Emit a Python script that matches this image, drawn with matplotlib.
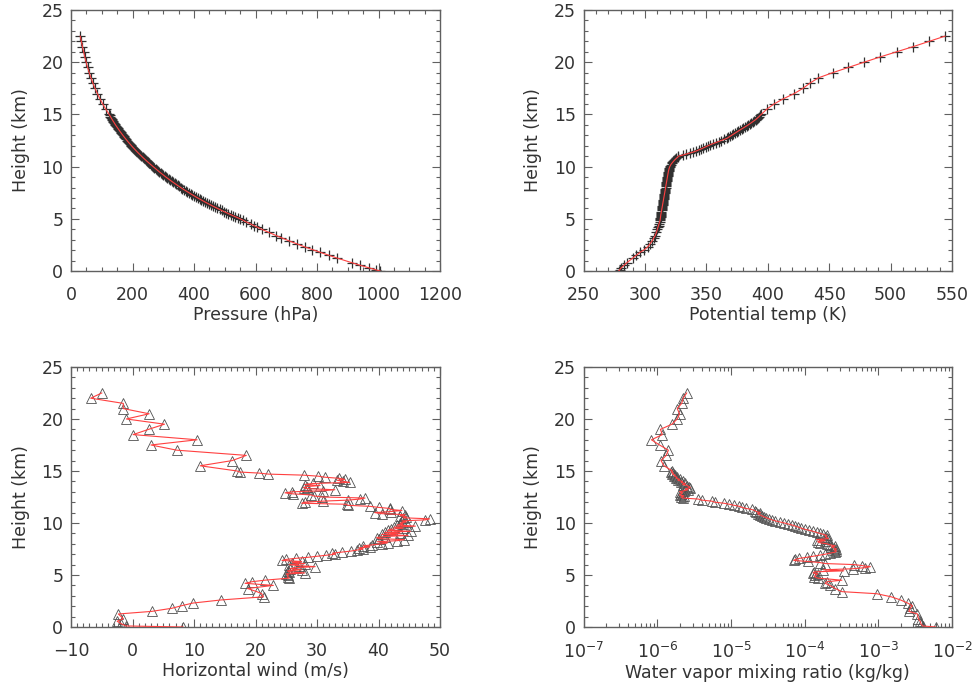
import matplotlib
matplotlib.use("Agg")
import matplotlib.pyplot as plt
from matplotlib.ticker import MultipleLocator, LogLocator, NullFormatter

# ---------------- data ----------------
height_low = [0.0, 0.1, 0.3, 0.55, 0.8, 1.25, 1.5, 1.8, 2.05, 2.3, 2.6, 2.9,
              3.2, 3.4, 3.7, 4.0, 4.2, 4.35, 4.5, 4.7, 4.85]
height_mid = [5.0, 5.1, 5.2, 5.3, 5.4, 5.5, 5.6, 5.7, 5.8, 5.9,
              6.0, 6.1, 6.2, 6.3, 6.4, 6.5, 6.6, 6.7, 6.8, 6.9,
              7.0, 7.1, 7.2, 7.3, 7.4, 7.5, 7.6, 7.7, 7.8, 7.9,
              8.0, 8.1, 8.2, 8.3, 8.4, 8.5, 8.6, 8.7, 8.8, 8.9,
              9.0, 9.1, 9.2, 9.3, 9.4, 9.5, 9.6, 9.7, 9.8, 9.9,
              10.0, 10.1, 10.2, 10.3, 10.4, 10.5, 10.6, 10.7, 10.8, 10.9,
              11.0, 11.1, 11.2, 11.3, 11.4, 11.5, 11.6, 11.7, 11.8, 11.9,
              12.0, 12.1, 12.2, 12.3, 12.4, 12.5, 12.6, 12.7, 12.8, 12.9,
              13.0, 13.1, 13.2, 13.3, 13.4, 13.5, 13.6, 13.7, 13.8, 13.9,
              14.0, 14.1, 14.2, 14.3, 14.4, 14.5, 14.6, 14.7, 14.8, 14.9,
              15.0]
height_high = [15.5, 16.0, 16.5, 17.0, 17.5, 18.0, 18.5, 19.0, 19.5, 20.0,
               20.5, 21.0, 21.5, 22.0, 22.5]

pressure_low = [1005, 993, 969, 940, 913, 864, 839, 809, 785, 761, 734, 708,
                683, 667, 643, 620, 606, 595, 584, 570, 560]
pressure_mid = [550.0, 542.1, 534.3, 526.6, 519.1, 511.6, 504.3, 497.1, 489.9, 482.9,
                476.0, 469.2, 462.4, 455.8, 449.3, 442.8, 436.5, 430.2, 424.1, 418.0,
                412.0, 406.1, 400.3, 394.5, 388.9, 383.3, 377.8, 372.4, 367.1, 361.8,
                356.6, 351.5, 346.5, 341.5, 336.6, 331.8, 327.0, 322.3, 317.7, 313.2,
                308.7, 304.3, 299.9, 295.6, 291.4, 287.2, 283.1, 279.0, 275.0, 271.1,
                267.2, 263.1, 259.1, 255.2, 251.3, 247.5, 243.7, 240.0, 236.3, 232.7,
                229.2, 225.7, 222.3, 218.9, 215.6, 212.3, 209.0, 205.9, 202.7, 199.6,
                196.6, 193.6, 190.7, 187.8, 184.9, 182.1, 179.3, 176.6, 173.9, 171.2,
                168.6, 166.1, 163.5, 161.0, 158.6, 156.2, 153.8, 151.4, 149.1, 146.9,
                144.6, 142.4, 140.3, 138.1, 136.0, 134.0, 131.9, 129.9, 127.9, 126.0,
                124.1]
pressure_high = [113.1, 103.1, 94.0, 85.7, 78.1, 71.2, 64.9, 59.2, 53.9, 49.2,
                 44.8, 40.9, 37.2, 33.5, 30.0]

theta_low = [278.5, 279.2, 280.5, 282.8, 285.2, 290.0, 292.8, 296.0, 299.5, 302.0,
             304.0, 305.8, 307.3, 308.2, 309.2, 310.0, 310.6, 311.0, 311.4, 311.9, 312.2]
theta_mid = [312.4, 312.5, 312.6, 312.7, 312.8, 313.0, 313.1, 313.3, 313.4, 313.6,
             313.7, 313.9, 314.0, 314.2, 314.3, 314.5, 314.6, 314.8, 314.9, 315.1,
             315.2, 315.4, 315.5, 315.7, 315.8, 316.0, 316.1, 316.3, 316.4, 316.6,
             316.7, 316.8, 317.0, 317.1, 317.3, 317.4, 317.6, 317.7, 317.9, 318.0,
             318.2, 318.3, 318.5, 318.6, 318.8, 318.9, 319.1, 319.3, 319.5, 319.8,
             320.1, 320.5, 321.0, 321.6, 322.3, 323.0, 323.8, 324.6, 325.5, 326.6,
             327.0, 330.5, 333.5, 336.5, 339.3, 341.7, 343.8, 345.7, 347.5, 349.3,
             351.1, 353.0, 355.3, 357.6, 359.9, 362.1, 364.3, 366.5, 367.9, 369.2,
             370.5, 371.8, 373.1, 374.5, 375.8, 377.2, 378.6, 380.0, 381.4, 382.7,
             384.0, 385.3, 386.5, 387.7, 388.9, 390.0, 391.0, 392.0, 392.9, 393.6,
             394.6]
theta_high = [399.1, 405.0, 412.6, 421.5, 428.6, 434.3, 441.1, 452.8, 465.5, 478.3,
              491.3, 504.9, 518.5, 531.5, 544.3]

wind_low = [8.2, -1.0, -1.8, -2.5, -1.5, -2.3, 3.1, 6.4, 8.0, 9.8, 14.4, 21.3,
            21.0, 20.2, 18.7, 22.9, 18.3, 19.4, 21.5, 25.5, 25.2]
wind_mid = [25.3, 25.0, 28.0, 25.4, 25.2, 27.5, 25.6, 26.5, 29.7, 27.0,
            25.5, 28.0, 26.0, 27.5, 24.3, 25.0, 26.5, 28.5, 30.0, 31.5,
            33.0, 32.5, 34.0, 35.5, 36.5, 37.5, 36.8, 38.6, 37.5, 39.0,
            40.5, 41.5, 39.8, 43.0, 44.2, 40.0, 39.7, 41.0, 44.8, 40.5,
            43.5, 41.0, 45.2, 41.5, 42.0, 44.0, 42.5, 46.0, 43.0, 44.0,
            43.5, 44.5, 43.8, 47.6, 48.3, 44.0, 44.5, 43.5, 44.3, 40.5,
            39.4, 42.0, 43.8, 41.9, 41.8, 40.0, 38.6, 35.0, 34.8, 27.5,
            28.0, 31.0, 35.0, 37.0, 37.8, 30.8, 29.5, 29.0, 26.1, 24.8,
            26.0, 31.0, 32.9, 28.3, 27.8, 28.3, 30.5, 28.0, 29.4, 35.3,
            34.3, 33.3, 34.5, 33.5, 31.3, 30.2, 27.8, 22.1, 20.5, 17.4,
            17.0]
wind_high = [11.0, 16.2, 18.5, 7.2, 3.0, 10.5, 0.1, 2.6, 5.2, -1.0,
             2.7, -1.5, -1.5, -6.8, -5.0]

mixr_low = [6.0e-3, 4.0e-3, 3.8e-3, 3.7e-3, 3.5e-3, 3.4e-3, 2.6e-3, 2.7e-3, 2.9e-3,
            2.5e-3, 2.0e-3, 1.5e-3, 9.5e-4, 3.2e-4, 2.6e-4, 2.2e-4, 1.9e-4, 2.0e-4,
            3.2e-4, 1.5e-4, 1.35e-4]
mixr_mid = [1.4e-4, 1.5e-4, 1.3e-4, 1.35e-4, 3.4e-4, 1.8e-4, 4.5e-4, 6.5e-4, 7.8e-4, 6.0e-4,
            4.7e-4, 1.9e-4, 1.6e-4, 1.1e-4, 7.1e-5, 7.5e-5, 8.5e-5, 1.07e-4, 1.3e-4, 1.6e-4,
            1.9e-4, 2.2e-4, 2.6e-4, 2.7e-4, 2.5e-4, 2.7e-4, 2.5e-4, 2.3e-4, 2.6e-4, 2.2e-4,
            2.0e-4, 1.6e-4, 1.5e-4, 1.9e-4, 1.45e-4, 2.1e-4, 2.0e-4, 1.9e-4, 2.0e-4, 1.8e-4,
            1.6e-4, 1.45e-4, 1.3e-4, 1.15e-4, 1.0e-4, 9.0e-5, 8.2e-5, 7.5e-5, 6.8e-5, 6.0e-5,
            5.3e-5, 4.6e-5, 4.0e-5, 3.6e-5, 3.3e-5, 3.0e-5, 2.8e-5, 2.6e-5, 2.45e-5, 2.3e-5,
            2.5e-5, 2.2e-5, 2.1e-5, 1.9e-5, 1.6e-5, 1.4e-5, 1.3e-5, 1.1e-5, 9.5e-6, 8.0e-6,
            6.0e-6, 5.5e-6, 4.0e-6, 3.6e-6, 2.2e-6, 2.1e-6, 2.3e-6, 2.0e-6, 2.1e-6, 2.2e-6,
            2.0e-6, 2.3e-6, 2.6e-6, 2.4e-6, 2.8e-6, 2.7e-6, 2.5e-6, 2.2e-6, 2.4e-6, 2.1e-6,
            2.2e-6, 1.9e-6, 2.0e-6, 1.8e-6, 1.85e-6, 1.7e-6, 1.75e-6, 1.6e-6, 1.65e-6, 1.55e-6,
            1.6e-6]
mixr_high = [1.23e-6, 1.12e-6, 1.32e-6, 1.41e-6, 1.07e-6, 8.3e-7, 1.17e-6, 1.1e-6,
             1.58e-6, 1.86e-6, 2.0e-6, 1.86e-6, 2.14e-6, 2.24e-6, 2.5e-6]

height = height_low + height_mid + height_high
pressure = pressure_low + pressure_mid + pressure_high
theta = theta_low + theta_mid + theta_high
wind = wind_low + wind_mid + wind_high
mixr = mixr_low + mixr_mid + mixr_high

# ---------------- style ----------------
TXT = "#333333"
AXC = "#606060"
FS = 12.5
plt.rcParams["font.family"] = ["DejaVu Sans"]

fig = plt.figure(figsize=(9.74, 6.83), dpi=100)
positions = [
    [0.0729, 0.6032, 0.3789, 0.3821],
    [0.5993, 0.6032, 0.3781, 0.3821],
    [0.0729, 0.0820, 0.3789, 0.3807],
    [0.5993, 0.0820, 0.3781, 0.3807],
]
axes = [fig.add_axes(p) for p in positions]


def style(ax):
    for s in ax.spines.values():
        s.set_color(AXC)
        s.set_linewidth(1.0)
    ax.tick_params(which="both", direction="in", top=True, right=True,
                   colors=AXC, labelcolor=TXT, labelsize=FS, width=0.8)
    ax.tick_params(which="major", length=5.5)
    ax.tick_params(which="minor", length=2.8)
    ax.tick_params(axis="x", which="major", pad=11)
    ax.tick_params(axis="y", which="major", pad=5.5)
    ax.set_ylim(0, 25)
    ax.yaxis.set_major_locator(MultipleLocator(5))
    ax.yaxis.set_minor_locator(MultipleLocator(1))
    ax.set_ylabel("Height (km)", fontsize=FS, color=TXT, labelpad=8.5)


LINE = dict(color="#ff4040", lw=0.8, zorder=3)
PLUS = dict(ls="none", marker="+", ms=6.5, mew=0.9, color="#303030", zorder=2)
TRI = dict(ls="none", marker="^", ms=7.5, mew=0.6, mfc="none", mec="#505050", zorder=2)

# Panel 1: pressure
ax = axes[0]
ax.plot(pressure, height, **PLUS)
ax.plot(pressure, height, **LINE)
ax.set_xlim(0, 1200)
ax.xaxis.set_major_locator(MultipleLocator(200))
ax.xaxis.set_minor_locator(MultipleLocator(50))
style(ax)
ax.set_xlabel("Pressure (hPa)", fontsize=FS, color=TXT, labelpad=1)

# Panel 2: potential temperature
ax = axes[1]
ax.plot(theta, height, **PLUS)
ax.plot(theta, height, **LINE)
ax.set_xlim(250, 550)
ax.xaxis.set_major_locator(MultipleLocator(50))
ax.xaxis.set_minor_locator(MultipleLocator(10))
style(ax)
ax.set_xlabel("Potential temp (K)", fontsize=FS, color=TXT, labelpad=1)

# Panel 3: horizontal wind
ax = axes[2]
ax.plot(wind, height, **TRI)
ax.plot(wind, height, **LINE)
ax.set_xlim(-10, 50)
ax.xaxis.set_major_locator(MultipleLocator(10))
ax.xaxis.set_minor_locator(MultipleLocator(1))
style(ax)
ax.set_xlabel("Horizontal wind (m/s)", fontsize=FS, color=TXT, labelpad=1)

# Panel 4: water vapor mixing ratio (log)
ax = axes[3]
ax.plot(mixr, height, **TRI)
ax.plot(mixr, height, **LINE)
ax.set_xscale("log")
ax.set_xlim(1e-7, 1e-2)
ax.xaxis.set_major_locator(LogLocator(base=10, numticks=10))
ax.xaxis.set_minor_locator(LogLocator(base=10, subs=range(2, 10), numticks=20))
ax.xaxis.set_minor_formatter(NullFormatter())
style(ax)
ax.set_xlabel("Water vapor mixing ratio (kg/kg)", fontsize=FS, color=TXT, labelpad=1)

fig.savefig("out.png", dpi=100)
